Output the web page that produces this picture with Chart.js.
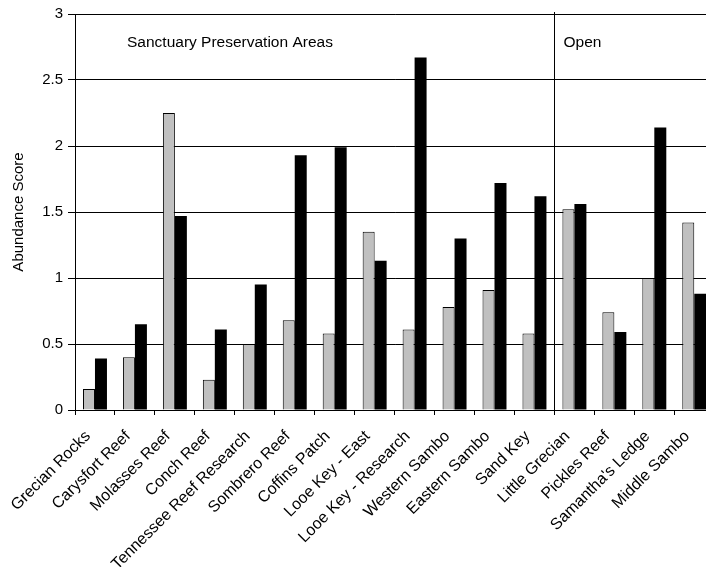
<!DOCTYPE html>
<html>
<head>
<meta charset="utf-8">
<script src="https://cdn.jsdelivr.net/npm/chart.js@4"></script>
<style>
    html, body {
        margin: 0;
        padding: 0;
        background: #fff;
        overflow: hidden;
    }
    #wrap {
        width: 720px;
        height: 567px;
    }
</style>
</head>
<body>
<div id="wrap"><canvas id="chart"></canvas></div>
<script>
// Dados
const sites = [
    'Grecian Rocks', 'Carysfort Reef', 'Molasses Reef', 'Conch Reef',
    'Tennessee Reef Research', 'Sombrero Reef', 'Coffins Patch', 'Looe Key - East',
    'Looe Key - Research', 'Western Sambo', 'Eastern Sambo', 'Sand Key',
    'Little Grecian', 'Pickles Reef', "Samantha's Ledge", 'Middle Sambo'
];
const grayValues = [0.16, 0.40, 2.25, 0.23, 0.50, 0.68, 0.58, 1.35, 0.61, 0.78, 0.91, 0.58, 1.52, 0.74, 1.00, 1.42];
const blackValues = [0.39, 0.65, 1.47, 0.61, 0.95, 1.93, 1.99, 1.13, 2.67, 1.30, 1.72, 1.62, 1.56, 0.59, 2.14, 0.88];
const yTicks = [0, 0.5, 1, 1.5, 2, 2.5, 3];
const zoneLabels = ['Sanctuary Preservation Areas', 'Open'];
const lastSanctuaryIndex = 11;

const fontFamily = 'Arial, "Liberation Sans", sans-serif';

// Linha divisória e textos das zonas
const zonesPlugin = {
    id: 'zones',
    afterDatasetsDraw(chart) {
        const { ctx, chartArea, scales } = chart;
        const x = scales.x;
        const sepX = Math.round((x.getPixelForValue(lastSanctuaryIndex) + x.getPixelForValue(lastSanctuaryIndex + 1)) / 2) + 0.5;

        ctx.save();
        ctx.strokeStyle = '#000';
        ctx.lineWidth = 1;
        ctx.beginPath();
        ctx.moveTo(sepX, chartArea.top - 2);
        ctx.lineTo(sepX, chartArea.bottom);
        ctx.stroke();

        ctx.fillStyle = '#000';
        ctx.font = '15.5px ' + fontFamily;
        ctx.textAlign = 'left';
        ctx.textBaseline = 'middle';
        ctx.fillText(zoneLabels[0], chartArea.left + 52, chartArea.top + 29);
        ctx.fillText(zoneLabels[1], sepX + 9, chartArea.top + 29);
        ctx.restore();
    }
};

const chart = new Chart(document.getElementById('chart'), {
    type: 'bar',
    data: {
        labels: sites,
        datasets: [
            {
                label: 'Series 1',
                data: grayValues,
                backgroundColor: '#c0c0c0',
                borderColor: '#000',
                borderWidth: 1,
                categoryPercentage: 0.6,
                barPercentage: 1.0
            },
            {
                label: 'Series 2',
                data: blackValues,
                backgroundColor: '#000',
                borderColor: '#000',
                borderWidth: 0,
                categoryPercentage: 0.6,
                barPercentage: 1.0
            }
        ]
    },
    options: {
        responsive: true,
        maintainAspectRatio: false,
        animation: false,
        layout: {
            padding: { top: 13, right: 5, left: 0, bottom: 0 }
        },
        plugins: {
            legend: { display: false },
            tooltip: { enabled: false }
        },
        scales: {
            x: {
                grid: {
                    offset: true,
                    drawOnChartArea: false,
                    drawTicks: true,
                    tickLength: 5,
                    color: '#000'
                },
                border: { color: '#000', width: 1 },
                ticks: {
                    color: '#000',
                    font: { family: fontFamily, size: 16 },
                    minRotation: 45,
                    maxRotation: 45,
                    autoSkip: false,
                    padding: 12,
                    labelOffset: -7
                },
                afterFit(scale) {
                    scale.height = 157;
                }
            },
            y: {
                min: 0,
                max: 3,
                afterBuildTicks(scale) {
                    scale.ticks = yTicks.map(v => ({ value: v }));
                },
                grid: {
                    color: '#000',
                    lineWidth: 1,
                    tickLength: 7
                },
                border: { color: '#000', width: 1 },
                ticks: {
                    color: '#000',
                    font: { family: fontFamily, size: 15 },
                    padding: 5,
                    callback: (value) => String(value)
                },
                title: {
                    display: true,
                    text: 'Abundance Score',
                    color: '#000',
                    font: { family: fontFamily, size: 15 },
                    padding: { top: 10, bottom: 0 }
                },
                afterFit(scale) {
                    scale.width = 75;
                }
            }
        }
    },
    plugins: [zonesPlugin]
});
</script>
</body>
</html>
